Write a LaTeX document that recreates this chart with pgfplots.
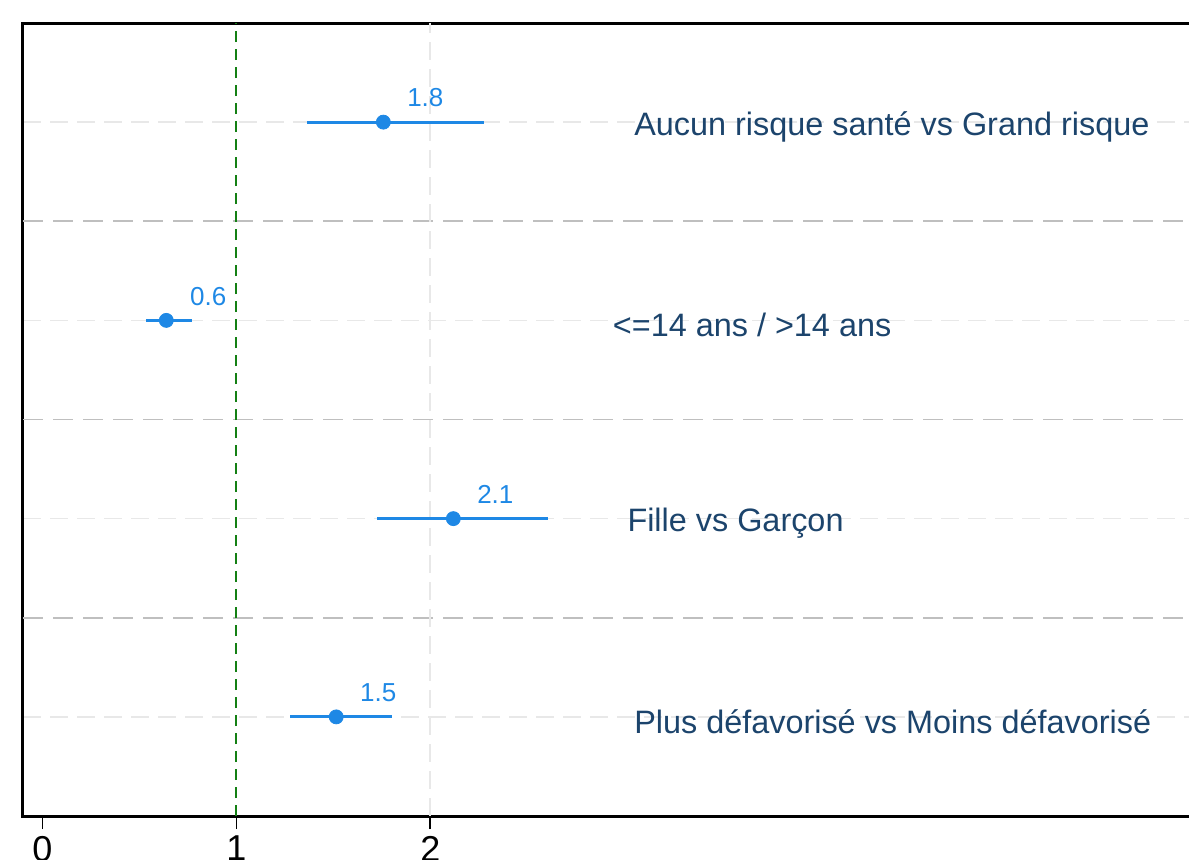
\documentclass[border=0pt]{standalone}
\usepackage{fontspec}
\setmainfont{Liberation Sans}
\usepackage{pgfplots}
\pgfplotsset{compat=1.18}
\definecolor{ptblue}{RGB}{30,136,229}
\definecolor{lblblue}{RGB}{28,68,108}
\definecolor{grgreen}{RGB}{20,128,20}
\begin{document}
\begin{tikzpicture}
\useasboundingbox (0,0) rectangle (594.5pt,429.5pt);
\clip (0,0) rectangle (594.5pt,429.5pt);
\begin{axis}[
  at={(11.5pt,21.5pt)}, anchor=south west,
  scale only axis, width=591.5pt, height=396.5pt,
  xmin=-0.1, xmax=6, ymin=0.5, ymax=4.5,
  xtick={0,1,2}, xtick pos=bottom, tick align=outside,
  major tick length=6.5pt,
  x tick style={black, line width=0.8pt},
  ytick={1,2,3,4}, yticklabels={}, y tick style={draw=none},
  ymajorgrids, grid style={gray!18, dashed, line width=0.8pt, dash pattern=on 9pt off 4.5pt},
  axis line style={line width=1.5pt},
  /pgf/number format/assume math mode=true,
  ticklabel style={font=\fontsize{18}{20}\selectfont},
  clip=false,
]
\foreach \yy in {1.5,2.5,3.5} {
  \edef\tmp{\noexpand\draw[gray!50, line width=0.9pt, dash pattern=on 10pt off 5pt] (axis cs:-0.1,\yy) -- (axis cs:6,\yy);}
  \tmp
}
\draw[gray!18, line width=0.8pt, dash pattern=on 9pt off 4.5pt] (axis cs:2,0.5) -- (axis cs:2,4.5);
\draw[grgreen, line width=1.1pt, dash pattern=on 5.5pt off 3.5pt] (axis cs:1,0.5) -- (axis cs:1,4.5);
\addplot[ptblue, only marks, mark=*, mark size=3.5pt,
  error bars/.cd, x dir=both, x explicit, error mark=none,
  error bar style={line width=1.5pt, ptblue}]
  coordinates {
  (1.758,4) += (0.520,0) -= (0.392,0)
  (0.639,3) += (0.134,0) -= (0.103,0)
  (2.119,2) += (0.489,0) -= (0.392,0)
  (1.515,1) += (0.289,0) -= (0.237,0)
  };
\addplot[only marks, mark=none, point meta=x,
  nodes near coords={\pgfmathprintnumber[fixed,fixed zerofill,precision=1]{\pgfplotspointmeta}},
  every node near coord/.append style={anchor=south, xshift=21pt, yshift=4pt, text=ptblue, font=\fontsize{13}{15}\selectfont}]
  coordinates {(1.758,4) (0.639,3) (2.119,2) (1.515,1)};
\tikzset{rowlbl/.style={anchor=west, inner sep=0pt, yshift=-2.5pt, text=lblblue, font=\fontsize{16.2}{18}\selectfont}}
\node[rowlbl] at (axis cs:3.05,4) {Aucun risque santé vs Grand risque};
\node[rowlbl] at (axis cs:2.94,3) {<=14 ans / >14 ans};
\node[rowlbl] at (axis cs:3.015,2) {Fille vs Garçon};
\node[rowlbl] at (axis cs:3.05,1) {Plus défavorisé vs Moins défavorisé};
\end{axis}
\end{tikzpicture}
\end{document}
